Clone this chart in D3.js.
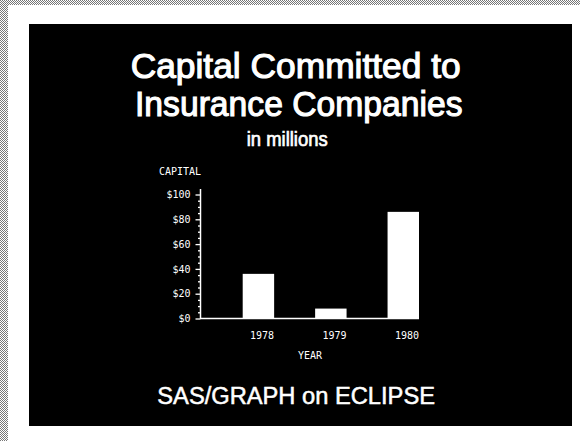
<!DOCTYPE html>
<html lang="en">
<head>
  <meta charset="UTF-8">
  <title>Capital Committed to Insurance Companies</title>
  <script src="https://d3js.org/d3.v7.min.js"></script>
  <style>
    body { margin: 0; padding: 0; background: #fff; }
    svg { display: block; }
    .mono { font-family: "DejaVu Sans Mono", monospace; font-size: 10px; fill: #fff; }
    .title { font-family: "Liberation Sans", Arial, sans-serif; fill: #fff; stroke: #fff; }
  </style>
</head>
<body>
  <div id="chart"></div>
  <script>
    // data
    const years = ["1978", "1979", "1980"];
    const capital = [36, 8, 86];
    const majorTicks = [0, 20, 40, 60, 80, 100];
    const minorTicks = [5, 10, 15, 25, 30, 35, 45, 50, 55, 65, 70, 75, 85, 90, 95];

    const W = 580, H = 441;
    const svg = d3.select("#chart").append("svg")
      .attr("width", W)
      .attr("height", H);

    // halftone edge of the scanned page
    const defs = svg.append("defs");
    const pat = defs.append("pattern")
      .attr("id", "halftone")
      .attr("width", 2).attr("height", 2)
      .attr("patternUnits", "userSpaceOnUse");
    pat.append("rect").attr("width", 2).attr("height", 2).attr("fill", "#fff");
    pat.append("rect").attr("width", 1).attr("height", 1).attr("fill", "#777");
    pat.append("rect").attr("x", 1).attr("y", 1).attr("width", 1).attr("height", 1).attr("fill", "#777");

    svg.append("rect").attr("x", 0).attr("y", 0).attr("width", W).attr("height", 5).attr("fill", "url(#halftone)");
    svg.append("rect").attr("x", 0).attr("y", 0).attr("width", 8).attr("height", H).attr("fill", "url(#halftone)");

    // black slide
    svg.append("rect")
      .attr("x", 29).attr("y", 24)
      .attr("width", 543).attr("height", 402)
      .attr("fill", "#000");

    // titles (the slide font is narrow and heavy, so squeeze and thicken)
    const titles = [
      { text: "Capital Committed to", x: 130.7, y: 77.7, size: 34.3, len: 330, sw: 1.1 },
      { text: "Insurance Companies", x: 135, y: 116, size: 34.3, len: 327.5, sw: 1.1 },
      { text: "in millions", x: 246.7, y: 145.7, size: 21, len: 81, sw: 0.7 },
      { text: "SAS/GRAPH on ECLIPSE", x: 157.3, y: 404, size: 23, len: 277.7, sw: 0.5 }
    ];
    svg.selectAll(".title")
      .data(titles)
      .enter().append("text")
      .attr("class", "title")
      .attr("x", d => d.x)
      .attr("y", d => d.y)
      .attr("font-size", d => d.size)
      .attr("stroke-width", d => d.sw)
      .attr("textLength", d => d.len)
      .attr("lengthAdjust", "spacingAndGlyphs")
      .text(d => d.text);

    // scales
    const y = d3.scaleLinear().domain([0, 100]).range([318.5, 194.5]);
    const x = d3.scaleBand()
      .domain(years)
      .range([242.7, 419])
      .paddingInner(0.566)
      .paddingOuter(0);
    const axisX0 = 200.5;

    // bars
    svg.selectAll(".bar")
      .data(capital)
      .enter().append("rect")
      .attr("class", "bar")
      .attr("x", (d, i) => x(years[i]))
      .attr("y", d => y(d))
      .attr("width", x.bandwidth())
      .attr("height", d => y(0) - y(d))
      .attr("fill", "#fff");

    // y axis: major + minor ticks
    const yAxis = svg.append("g")
      .attr("transform", `translate(${axisX0},0)`)
      .call(d3.axisLeft(y).tickValues(majorTicks).tickSize(5).tickPadding(5)
        .tickFormat(d => "$" + d));
    yAxis.select(".domain").remove();
    yAxis.selectAll("line").attr("stroke", "#fff").attr("stroke-width", 1.3);
    yAxis.selectAll("text").attr("class", "mono").attr("font-family", null).attr("font-size", null);

    const yMinor = svg.append("g")
      .attr("transform", `translate(${axisX0},0)`)
      .call(d3.axisLeft(y).tickValues(minorTicks).tickSize(2.5).tickFormat(""));
    yMinor.select(".domain").remove();
    yMinor.selectAll("line").attr("stroke", "#fff").attr("stroke-width", 1.3);

    svg.append("line")
      .attr("x1", axisX0).attr("x2", axisX0)
      .attr("y1", 189).attr("y2", y(0) + 0.5)
      .attr("stroke", "#fff").attr("stroke-width", 1.5);

    // x axis
    const xAxis = svg.append("g")
      .attr("transform", `translate(0,${y(0)})`)
      .call(d3.axisBottom(x).tickSize(0).tickPadding(13));
    xAxis.select(".domain").remove();
    xAxis.selectAll("text")
      .attr("class", "mono")
      .attr("font-family", null).attr("font-size", null)
      .attr("text-anchor", "end")
      .attr("x", x.bandwidth() / 2);

    svg.append("line")
      .attr("x1", axisX0).attr("x2", x(years[2]) + x.bandwidth())
      .attr("y1", y(0)).attr("y2", y(0))
      .attr("stroke", "#fff").attr("stroke-width", 1.5);

    // axis labels
    svg.append("text")
      .attr("class", "mono")
      .attr("x", 159).attr("y", 174.5)
      .text("CAPITAL");

    svg.append("text")
      .attr("class", "mono")
      .attr("x", 310).attr("y", 358.5)
      .attr("text-anchor", "middle")
      .text("YEAR");
  </script>
</body>
</html>
